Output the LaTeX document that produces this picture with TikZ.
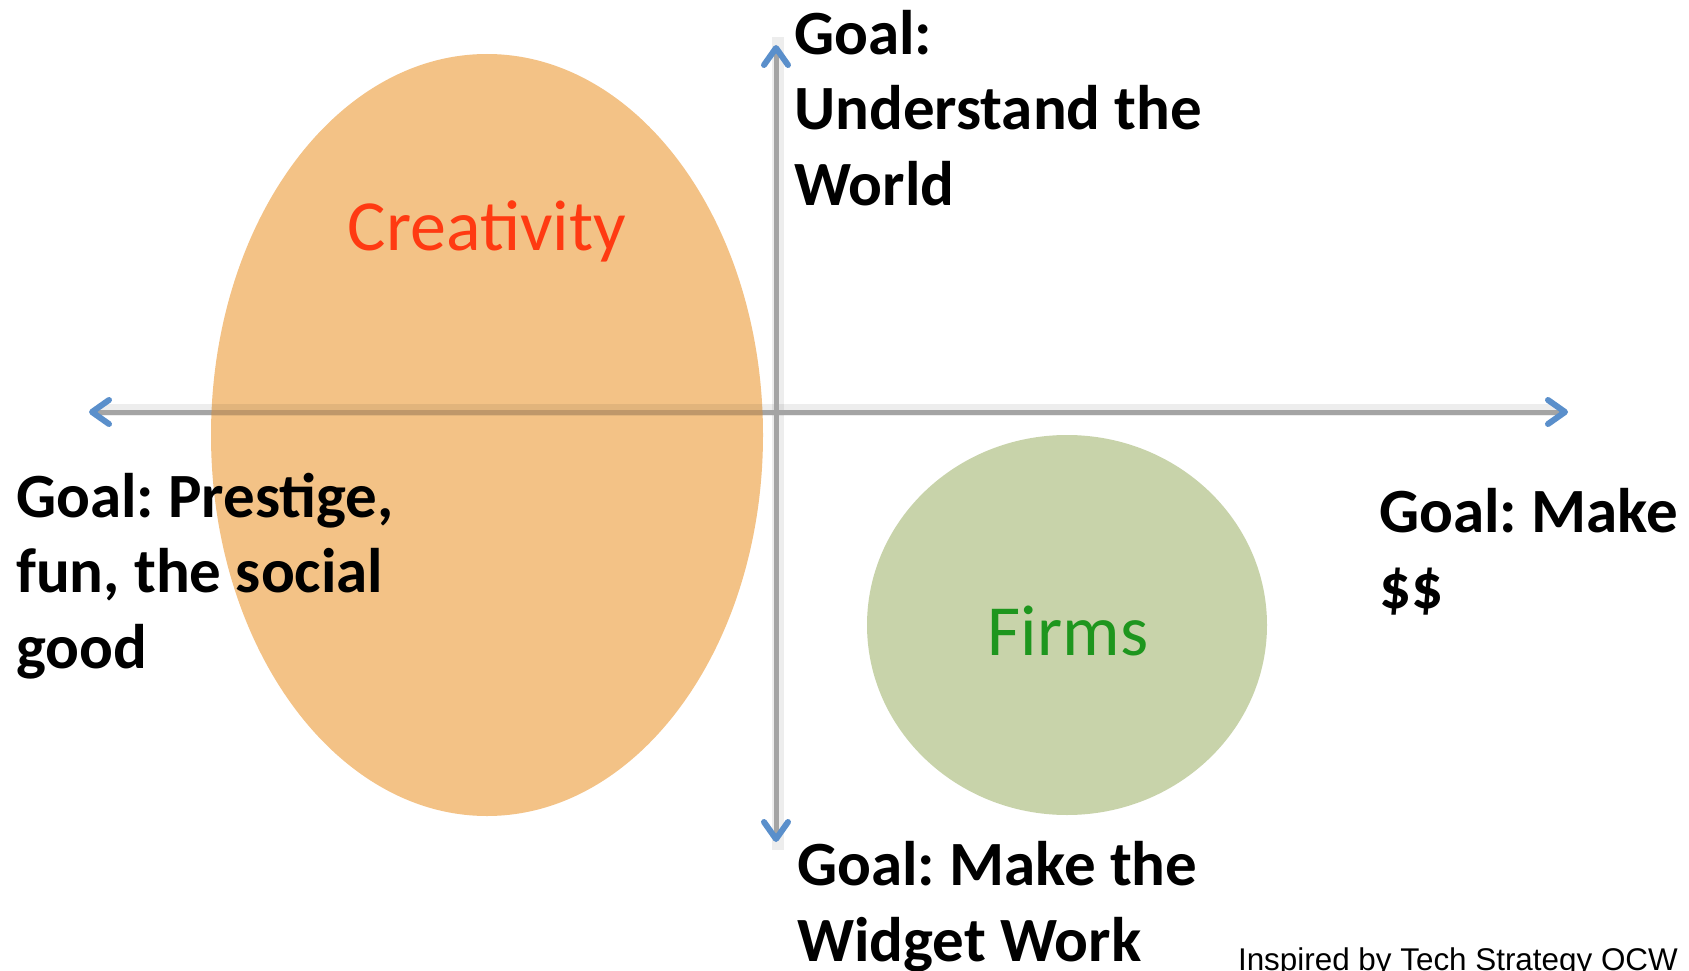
\documentclass[tikz,border=0pt]{standalone}
\usepackage{fontspec}
\setmainfont{Carlito}
\newfontfamily\arialfont{Liberation Sans}
\usetikzlibrary{arrows.meta,shapes.geometric}
\definecolor{ellorange}{HTML}{F3C286}
\definecolor{cirgreen}{HTML}{C8D3AA}
\definecolor{crered}{HTML}{FF3A12}
\definecolor{firmgreen}{HTML}{1E961E}
\definecolor{arrowblue}{HTML}{5A8FCB}
\definecolor{axisgray}{HTML}{A4A4A4}
\definecolor{axisbrown}{HTML}{BE976A}
\tikzset{
  tipbarb/.tip={Straight Barb[color=arrowblue, length=17pt, width=24pt, line width=6pt, round]},
  axisline/.style={draw=axisgray, line width=5pt, tipbarb-tipbarb},
  axisshadow/.style={draw=black, line width=12pt, draw opacity=0.07},
  goaltext/.style={font=\fontsize{63}{75.5}\selectfont\bfseries, align=left, inner sep=0pt, anchor=base west, text=black},
  bigword/.style={font=\fontsize{72}{86}\selectfont, inner sep=0pt, anchor=base},
}
\frenchspacing
\begin{document}
\begin{tikzpicture}[x=1pt, y=-1pt]
\useasboundingbox (0,0) rectangle (1689,971);
% regions
\node[draw=none, fill=ellorange, ellipse, minimum width=552pt, minimum height=762pt, inner sep=0pt] (creat) at (487,435) {};
\node[draw=none, fill=cirgreen, ellipse, minimum width=400pt, minimum height=380pt, inner sep=0pt] (firm) at (1067,625) {};
% axes
\coordinate (xl) at (89,412);
\coordinate (xr) at (1568,412);
\coordinate (yt) at (776,45);
\coordinate (yb) at (776,842);
\draw[axisshadow] ([xshift=8pt,yshift=2pt]xl) -- ([xshift=-8pt,yshift=2pt]xr);
\draw[axisshadow] ([xshift=2pt,yshift=8pt]yt) -- ([xshift=2pt,yshift=-8pt]yb);
\draw[axisline] (xl) -- (xr);
\draw[axisline] (yb) -- (yt);
\begin{scope}
  \clip (creat.center) ellipse [x radius=276pt, y radius=381pt];
  \draw[draw=axisbrown, line width=5pt] (xl) -- (xr);
\end{scope}
% labels
\node[bigword, text=crered] (creatlbl) at (487,250) {Creativity};
\node[bigword, text=firmgreen] (firmlbl) at (1068,655) {Firms};
\node[goaltext] (top) at (794,205) {Goal:\\Understand the\\World};
\node[goaltext] (left) at (16,668) {Goal: Prestige,\\fun, the social\\good};
\node[goaltext] (right) at (1379,608) {Goal: Make\\\$\$};
\node[goaltext] (bottom) at (797,961) {Goal: Make the\\Widget Work};
\node[font=\arialfont\fontsize{31.4}{37}\selectfont, inner sep=0pt, anchor=base east] (credit) at (1678,970.5) {Inspired by Tech Strategy OCW};
\end{tikzpicture}
\end{document}
